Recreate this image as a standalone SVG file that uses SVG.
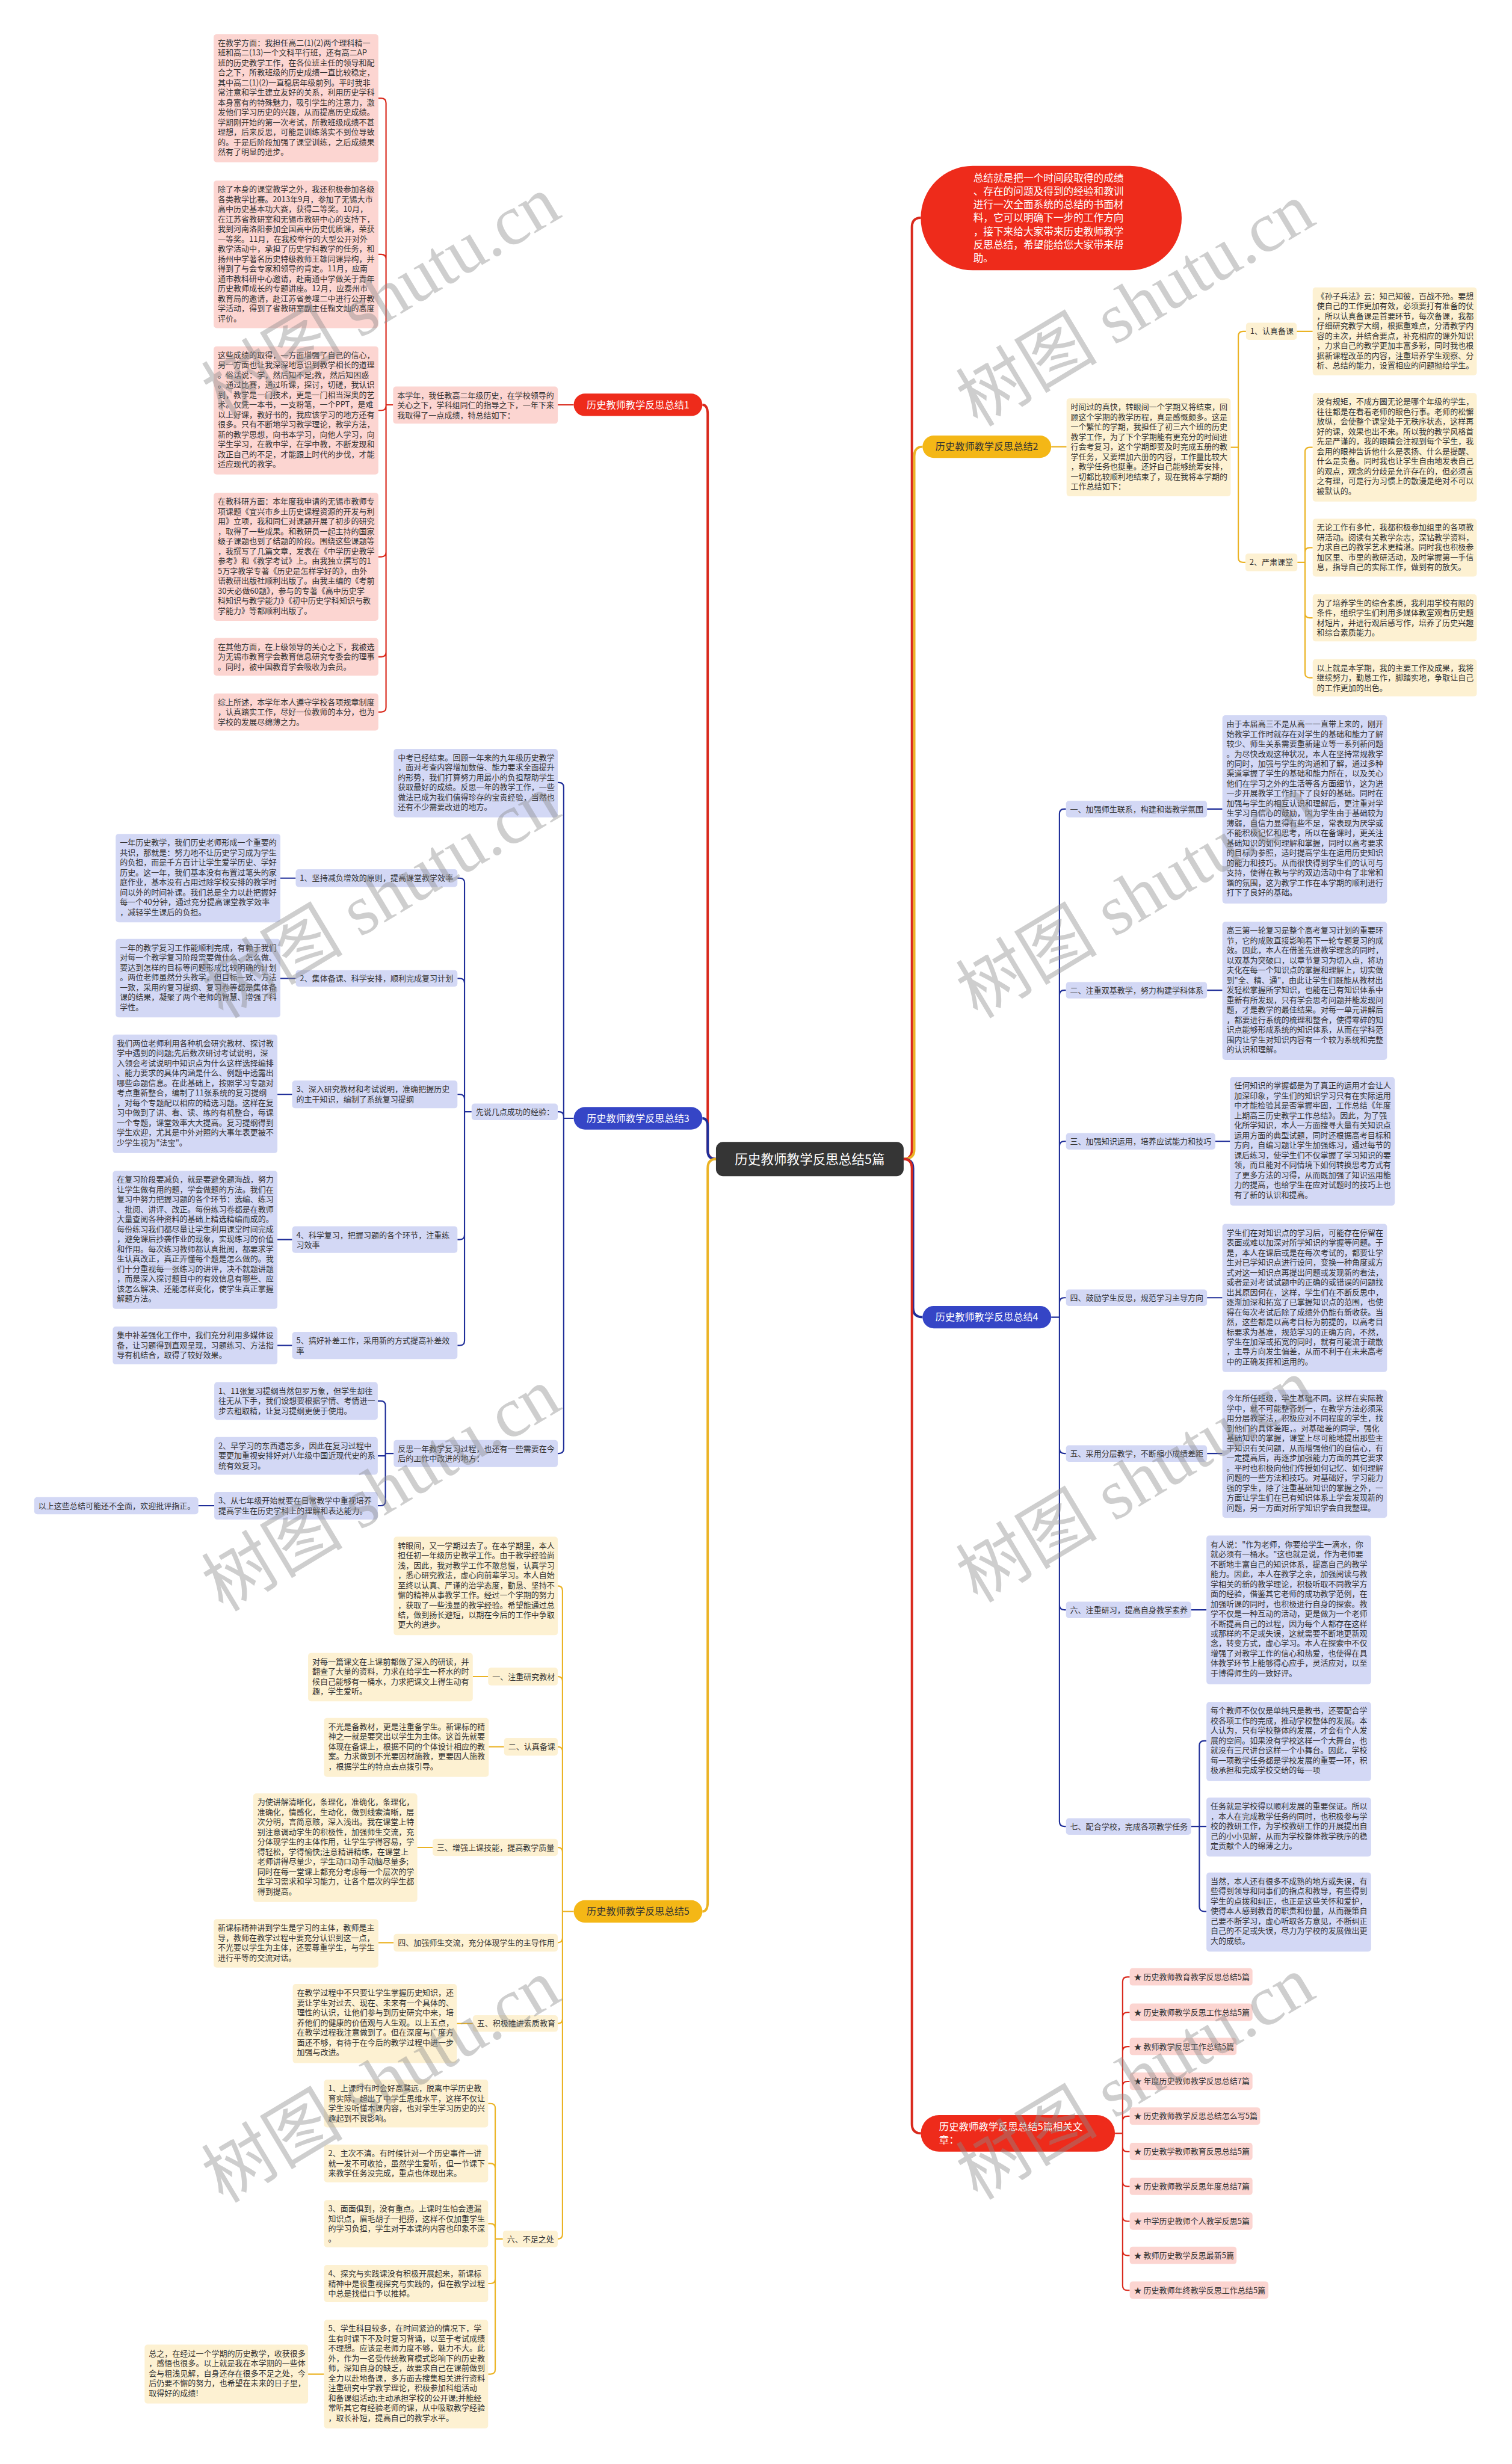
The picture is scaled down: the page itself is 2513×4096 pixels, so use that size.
<svg xmlns="http://www.w3.org/2000/svg" width="2513" height="4096" viewBox="0 0 2513 4096">
<style>
.t{font-family:"Noto Sans CJK SC","Noto Sans",sans-serif;font-size:13.3px;fill:#333}
.nt{font-family:"Noto Sans CJK SC","Noto Sans",sans-serif;font-size:16.5px;text-anchor:middle}
.w{fill:#fff}
.d{fill:#333}
.r{fill:#fcd5d1}
.y{fill:#fdf1d2}
.b{fill:#d3d8f5}
.nr{fill:#ee2b1b}
.ny{fill:#f4b716}
.nb{fill:#3545c6}
.lr{fill:none;stroke:#d9291c;stroke-width:2.2}
.ly{fill:none;stroke:#ebb324;stroke-width:2.2}
.lb{fill:none;stroke:#1f2e99;stroke-width:2.2}
.mn{stroke-width:4}
.wm{font-family:"Liberation Serif","Noto Sans CJK SC",serif;font-size:120px;fill:#8a8a8a;fill-opacity:.42;text-anchor:middle}
</style>
<rect width="2513" height="4096" fill="#fff"/>
<g transform="scale(0.981)">
<g id="connectors">
<path class="lr mn" d="M1213 1964Q1199 1964 1199 1948V702Q1199 686 1190 686"/>
<path class="lb mn" d="M1213 1964Q1199 1964 1199 1950V1909Q1199 1895 1190 1895"/>
<path class="ly mn" d="M1213 1964Q1199 1964 1199 1980V3223Q1199 3239 1190 3239"/>
<path class="lr mn" d="M1531 1964Q1545 1964 1545 1948V385Q1545 369 1560 369"/>
<path class="ly mn" d="M1531 1964Q1549 1964 1549 1948V773Q1549 757 1563 757"/>
<path class="lb mn" d="M1531 1964Q1547 1964 1547 1980V2216Q1547 2232 1563 2232"/>
<path class="lr mn" d="M1531 1964Q1545 1964 1545 1980V3599Q1545 3615 1560 3615"/>
<path class="lr" d="M972 686H945M666 686H654V174.5Q654 166.5 646 166.5H641M666 686H654V439Q654 431 646 431H641M666 686H654V687.5Q654 695.5 646 695.5H641M666 686H654V935.5Q654 943.5 646 943.5H641M666 686H654V1105Q654 1113 646 1113H641M666 686H654V1198.5Q654 1206.5 646 1206.5H641"/>
<path class="lr" d="M1889 3615H1902V3358Q1902 3350 1910 3350H1914M1889 3615H1902V3418Q1902 3410 1910 3410H1914M1889 3615H1902V3476Q1902 3468 1910 3468H1914M1889 3615H1902V3535Q1902 3527 1910 3527H1914M1889 3615H1902V3594Q1902 3586 1910 3586H1914M1889 3615H1902V3638Q1902 3646 1910 3646H1914M1889 3615H1902V3697Q1902 3705 1910 3705H1914M1889 3615H1902V3756Q1902 3764 1910 3764H1914M1889 3615H1902V3814Q1902 3822 1910 3822H1914M1889 3615H1902V3873Q1902 3881 1910 3881H1914"/>
<path class="lb" d="M972 1895H955V1334Q955 1326 947 1326H945M972 1895H955V1892Q955 1884 947 1884H945M972 1895H955V2455Q955 2463 947 2463H945M799 1884H787V1496Q787 1488 779 1488H775M799 1884H787V1666Q787 1658 779 1658H775M799 1884H787V1862.5Q787 1854.5 779 1854.5H775M799 1884H787V2092.5Q787 2100.5 779 2100.5H775M799 1884H787V2272Q787 2280 779 2280H775M501 1488H475M501 1658H475M495 1854.5H470M495 2100.5H470M495 2280H470M667 2463H653V2382Q653 2374 645 2374H640M667 2463H653V2465Q653 2467 651 2467H640M667 2463H653V2543.5Q653 2551.5 645 2551.5H640M363 2551.5H336"/>
<path class="ly" d="M972 3239H953V2695.5Q953 2687.5 945 2687.5M972 3239H953V2849Q953 2841 945 2841M972 3239H953V2968Q953 2960 945 2960M972 3239H953V3138.5Q953 3130.5 945 3130.5M972 3239H953V3284Q953 3292 945 3292M972 3239H953V3421Q953 3429 945 3429M972 3239H953V3786Q953 3794 945 3794M827 2841H801M854 2960H828M733 3130.5H707M667 3292H641M801 3429H774M852 3794H839V3572.5Q839 3564.5 831 3564.5H827M852 3794H839V3674Q839 3666 831 3666H827M852 3794H839V3776Q839 3768 831 3768H827M852 3794H839V3861.5Q839 3869.5 831 3869.5H827M852 3794H839V4015Q839 4023 831 4023H827M549 4023H522"/>
<path class="ly" d="M1781 757H1807M2085 758H2098V569.5Q2098 561.5 2106 561.5H2111M2085 758H2098V945Q2098 953 2106 953H2110M2197 561.5H2224M2198 953H2211V766Q2211 758 2219 758H2224M2198 953H2211V936Q2211 928 2219 928H2224M2198 953H2211V1039Q2211 1047 2219 1047H2224M2198 953H2211V1140.5Q2211 1148.5 2219 1148.5H2224"/>
<path class="lb" d="M1781 2232H1795V1379Q1795 1371 1803 1371H1806M1781 2232H1795V1686Q1795 1678 1803 1678H1806M1781 2232H1795V1942Q1795 1934 1803 1934H1806M1781 2232H1795V2207Q1795 2199 1803 2199H1806M1781 2232H1795V2455Q1795 2463 1803 2463H1806M1781 2232H1795V2720Q1795 2728 1803 2728H1806M1781 2232H1795V3087Q1795 3095 1803 3095H1806M2045 1371H2071M2045 1678H2071M2059 1934H2084M2045 2199H2071M2045 2463H2071M2018 2728H2044M2018 3095H2032V2958Q2032 2950 2040 2950H2044M2018 3095H2044M2018 3095H2032V3231Q2032 3239 2040 3239H2044"/>
</g>

<g id="center"><rect x="1213" y="1935" width="318" height="58" rx="12" fill="#353535"/><text class="nt w" x="1372" y="1972" style="font-size:22px">历史教师教学反思总结5篇</text></g>

<g id="intro"><rect class="nr" x="1560" y="281" width="442" height="177" rx="88"/><text class="t w" style="font-size:17px" x="1649" y="307.5"><tspan x="1649">总结就是把一个时间段取得的成绩</tspan><tspan x="1649" dy="22.7">、存在的问题及得到的经验和教训</tspan><tspan x="1649" dy="22.7">进行一次全面系统的总结的书面材</tspan><tspan x="1649" dy="22.7">料，它可以明确下一步的工作方向</tspan><tspan x="1649" dy="22.7">，接下来给大家带来历史教师教学</tspan><tspan x="1649" dy="22.7">反思总结，希望能给您大家带来帮</tspan><tspan x="1649" dy="22.7">助。</tspan></text></g>

<g id="node1"><rect class="nr" x="972" y="667" width="218" height="38" rx="19"/><text class="nt w" x="1081" y="692">历史教师教学反思总结1</text></g>
<g id="n1-intro"><rect class="r" x="666" y="655" width="279" height="63" rx="5"/><text class="t" y="674.5"><tspan x="673">本学年，我任教高二年级历史，在学校领导的</tspan><tspan x="673" dy="16.8">关心之下，学科组同仁的指导之下，一年下来</tspan><tspan x="673" dy="16.8">我取得了一点成绩，特总结如下：</tspan></text></g>
<g id="n1-a"><rect class="r" x="362" y="58" width="279" height="217" rx="5"/><text class="t" y="77.5"><tspan x="369">在教学方面：我担任高二(1)(2)两个理科精一</tspan><tspan x="369" dy="16.8">班和高二(13)一个文科平行班，还有高二AP</tspan><tspan x="369" dy="16.8">班的历史教学工作，在各位班主任的领导和配</tspan><tspan x="369" dy="16.8">合之下，所教班级的历史成绩一直比较稳定，</tspan><tspan x="369" dy="16.8">其中高二(1)(2)一直稳居年级前列。平时我非</tspan><tspan x="369" dy="16.8">常注意和学生建立友好的关系，利用历史学科</tspan><tspan x="369" dy="16.8">本身富有的特殊魅力，吸引学生的注意力，激</tspan><tspan x="369" dy="16.8">发他们学习历史的兴趣，从而提高历史成绩。</tspan><tspan x="369" dy="16.8">学期刚开始的第一次考试，所教班级成绩不甚</tspan><tspan x="369" dy="16.8">理想，后来反思，可能是训练落实不到位导致</tspan><tspan x="369" dy="16.8">的。于是后阶段加强了课堂训练，之后成绩果</tspan><tspan x="369" dy="16.8">然有了明显的进步。</tspan></text></g>
<g id="n1-b"><rect class="r" x="362" y="306" width="279" height="250" rx="5"/><text class="t" y="325.5"><tspan x="369">除了本身的课堂教学之外，我还积极参加各级</tspan><tspan x="369" dy="16.8">各类教学比赛。2013年9月，参加了无锡大市</tspan><tspan x="369" dy="16.8">高中历史基本功大赛，获得二等奖。10月，</tspan><tspan x="369" dy="16.8">在江苏省教研室和无锡市教研中心的支持下，</tspan><tspan x="369" dy="16.8">我到河南洛阳参加全国高中历史优质课，荣获</tspan><tspan x="369" dy="16.8">一等奖。11月，在我校举行的大型公开对外</tspan><tspan x="369" dy="16.8">教学活动中，承担了历史学科教学的任务，和</tspan><tspan x="369" dy="16.8">扬州中学著名历史特级教师王雄同课异构，并</tspan><tspan x="369" dy="16.8">得到了与会专家和领导的肯定。11月，应南</tspan><tspan x="369" dy="16.8">通市教科研中心邀请，赴南通中学做关于青年</tspan><tspan x="369" dy="16.8">历史教师成长的专题讲座。12月，应泰州市</tspan><tspan x="369" dy="16.8">教育局的邀请，赴江苏省姜堰二中进行公开教</tspan><tspan x="369" dy="16.8">学活动，得到了省教研室副主任鞠文灿的高度</tspan><tspan x="369" dy="16.8">评价。</tspan></text></g>
<g id="n1-c"><rect class="r" x="362" y="587" width="279" height="217" rx="5"/><text class="t" y="606.5"><tspan x="369">这些成绩的取得，一方面增强了自己的信心，</tspan><tspan x="369" dy="16.8">另一方面也让我深深地意识到教学相长的道理</tspan><tspan x="369" dy="16.8">。俗话说：学，然后知不足;教，然后知困惑</tspan><tspan x="369" dy="16.8">。通过比赛，通过听课，探讨，切磋，我认识</tspan><tspan x="369" dy="16.8">到，教学是一门技术，更是一门相当深奥的艺</tspan><tspan x="369" dy="16.8">术。仅凭一本书，一支粉笔，一个PPT，是难</tspan><tspan x="369" dy="16.8">以上好课，教好书的，我应该学习的地方还有</tspan><tspan x="369" dy="16.8">很多。只有不断地学习教学理论，教学方法，</tspan><tspan x="369" dy="16.8">新的教学思想，向书本学习，向他人学习，向</tspan><tspan x="369" dy="16.8">学生学习，在教中学，在学中教，不断发现和</tspan><tspan x="369" dy="16.8">改正自己的不足，才能跟上时代的步伐，才能</tspan><tspan x="369" dy="16.8">适应现代的教学。</tspan></text></g>
<g id="n1-d"><rect class="r" x="362" y="835" width="279" height="217" rx="5"/><text class="t" y="854.5"><tspan x="369">在教科研方面：本年度我申请的无锡市教师专</tspan><tspan x="369" dy="16.8">项课题《宜兴市乡土历史课程资源的开发与利</tspan><tspan x="369" dy="16.8">用》立项，我和同仁对课题开展了初步的研究</tspan><tspan x="369" dy="16.8">，取得了一些成果。和教研员一起主持的国家</tspan><tspan x="369" dy="16.8">级子课题也到了结题的阶段。围绕这些课题等</tspan><tspan x="369" dy="16.8">，我撰写了几篇文章，发表在《中学历史教学</tspan><tspan x="369" dy="16.8">参考》和《教学考试》上。由我独立撰写的1</tspan><tspan x="369" dy="16.8">5万字教学专著《历史是怎样学好的》，由外</tspan><tspan x="369" dy="16.8">语教研出版社顺利出版了。由我主编的《考前</tspan><tspan x="369" dy="16.8">30天必做60题》，参与的专著《高中历史学</tspan><tspan x="369" dy="16.8">科知识与教学能力》《初中历史学科知识与教</tspan><tspan x="369" dy="16.8">学能力》等都顺利出版了。</tspan></text></g>
<g id="n1-e"><rect class="r" x="362" y="1081" width="279" height="64" rx="5"/><text class="t" y="1100.5"><tspan x="369">在其他方面，在上级领导的关心之下，我被选</tspan><tspan x="369" dy="16.8">为无锡市教育学会教育信息研究专委会的理事</tspan><tspan x="369" dy="16.8">。同时，被中国教育学会吸收为会员。</tspan></text></g>
<g id="n1-f"><rect class="r" x="362" y="1175" width="279" height="63" rx="5"/><text class="t" y="1194.5"><tspan x="369">综上所述，本学年本人遵守学校各项规章制度</tspan><tspan x="369" dy="16.8">，认真踏实工作，尽好一位教师的本分，也为</tspan><tspan x="369" dy="16.8">学校的发展尽绵薄之力。</tspan></text></g>

<g id="node3"><rect class="nb" x="972" y="1876" width="218" height="38" rx="19"/><text class="nt w" x="1081" y="1901">历史教师教学反思总结3</text></g>
<g id="n3-intro"><rect class="b" x="667" y="1269" width="278" height="116" rx="5"/><text class="t" y="1288.5"><tspan x="674">中考已经结束。回顾一年来的九年级历史教学</tspan><tspan x="674" dy="16.8">，面对考查内容增加数倍、能力要求全面提升</tspan><tspan x="674" dy="16.8">的形势，我们打算努力用最小的负担帮助学生</tspan><tspan x="674" dy="16.8">获取最好的成绩。反思一年的教学工作，一些</tspan><tspan x="674" dy="16.8">做法已成为我们值得珍存的宝贵经验，当然也</tspan><tspan x="674" dy="16.8">还有不少需要改进的地方。</tspan></text></g>
<g id="n3-xs"><rect class="b" x="799" y="1870" width="146" height="28" rx="5"/><text class="t" x="806" y="1888.7">先说几点成功的经验：</text></g>
<g id="n3-l1"><rect class="b" x="501" y="1473" width="274" height="30" rx="5"/><text class="t" x="508" y="1492.7">1、坚持减负增效的原则，提高课堂教学效率</text></g>
<g id="n3-t1"><rect class="b" x="196" y="1413" width="279" height="150" rx="5"/><text class="t" y="1432.5"><tspan x="203">一年历史教学，我们历史老师形成一个重要的</tspan><tspan x="203" dy="16.8">共识，那就是：努力地不让历史学习成为学生</tspan><tspan x="203" dy="16.8">的负担，而是千方百计让学生爱学历史、学好</tspan><tspan x="203" dy="16.8">历史。这一年，我们基本没有布置过笔头的家</tspan><tspan x="203" dy="16.8">庭作业，基本没有占用过除学校安排的教学时</tspan><tspan x="203" dy="16.8">间以外的时间补课。我们总是全力以赴把握好</tspan><tspan x="203" dy="16.8">每一个40分钟，通过充分提高课堂教学效率</tspan><tspan x="203" dy="16.8">，减轻学生课后的负担。</tspan></text></g>
<g id="n3-l2"><rect class="b" x="501" y="1644" width="274" height="28" rx="5"/><text class="t" x="508" y="1662.7">2、集体备课、科学安排，顺利完成复习计划</text></g>
<g id="n3-t2"><rect class="b" x="196" y="1591" width="279" height="133" rx="5"/><text class="t" y="1610.5"><tspan x="203">一年的教学复习工作能顺利完成，有赖于我们</tspan><tspan x="203" dy="16.8">对每一个教学复习阶段需要做什么、怎么做、</tspan><tspan x="203" dy="16.8">要达到怎样的目标等问题形成比较明确的计划</tspan><tspan x="203" dy="16.8">。两位老师虽然分头教学，但目标一致、方法</tspan><tspan x="203" dy="16.8">一致，采用的复习提纲、复习卷等都是集体备</tspan><tspan x="203" dy="16.8">课的结果，凝聚了两个老师的智慧、增强了科</tspan><tspan x="203" dy="16.8">学性。</tspan></text></g>
<g id="n3-l3"><rect class="b" x="495" y="1831" width="280" height="47" rx="5"/><text class="t" y="1850.5"><tspan x="502">3、深入研究教材和考试说明，准确把握历史</tspan><tspan x="502" dy="16.8">的主干知识，编制了系统复习提纲</tspan></text></g>
<g id="n3-t3"><rect class="b" x="191" y="1753" width="279" height="201" rx="5"/><text class="t" y="1772.5"><tspan x="198">我们两位老师利用各种机会研究教材、探讨教</tspan><tspan x="198" dy="16.8">学中遇到的问题;先后数次研讨考试说明，深</tspan><tspan x="198" dy="16.8">入领会考试说明中知识点为什么这样选择编排</tspan><tspan x="198" dy="16.8">、能力要求的具体内涵是什么、例题中透露出</tspan><tspan x="198" dy="16.8">哪些命题信息。在此基础上，按照学习专题对</tspan><tspan x="198" dy="16.8">考点重新整合，编制了11张系统的复习提纲</tspan><tspan x="198" dy="16.8">，对每个专题配以相应的精选习题。这样在复</tspan><tspan x="198" dy="16.8">习中做到了讲、看、读、练的有机整合，每课</tspan><tspan x="198" dy="16.8">一个专题，课堂效率大大提高。复习提纲得到</tspan><tspan x="198" dy="16.8">学生欢迎，尤其是中外对照的大事年表更被不</tspan><tspan x="198" dy="16.8">少学生视为"法宝"。</tspan></text></g>
<g id="n3-l4"><rect class="b" x="495" y="2078" width="280" height="45" rx="5"/><text class="t" y="2097.5"><tspan x="502">4、科学复习，把握习题的各个环节，注重练</tspan><tspan x="502" dy="16.8">习效率</tspan></text></g>
<g id="n3-t4"><rect class="b" x="191" y="1984" width="279" height="234" rx="5"/><text class="t" y="2003.5"><tspan x="198">在复习阶段要减负，就是要避免题海战，努力</tspan><tspan x="198" dy="16.8">让学生做有用的题，学会做题的方法。我们在</tspan><tspan x="198" dy="16.8">复习中努力把握习题的各个环节：选编、练习</tspan><tspan x="198" dy="16.8">、批阅、讲评、改正。每份练习卷都是在教师</tspan><tspan x="198" dy="16.8">大量查阅各种资料的基础上精选精编而成的。</tspan><tspan x="198" dy="16.8">每份练习我们都尽量让学生利用课堂时间完成</tspan><tspan x="198" dy="16.8">，避免课后抄袭作业的现象，实现练习的价值</tspan><tspan x="198" dy="16.8">和作用。每次练习教师都认真批阅，都要求学</tspan><tspan x="198" dy="16.8">生认真改正，真正弄懂每个题是怎么做的。我</tspan><tspan x="198" dy="16.8">们十分重视每一张练习的讲评，决不就题讲题</tspan><tspan x="198" dy="16.8">，而是深入探讨题目中的有效信息有哪些、应</tspan><tspan x="198" dy="16.8">该怎么解决、还能怎样变化，使学生真正掌握</tspan><tspan x="198" dy="16.8">解题方法。</tspan></text></g>
<g id="n3-l5"><rect class="b" x="495" y="2257" width="280" height="46" rx="5"/><text class="t" y="2276.5"><tspan x="502">5、搞好补差工作，采用新的方式提高补差效</tspan><tspan x="502" dy="16.8">率</tspan></text></g>
<g id="n3-t5"><rect class="b" x="191" y="2248" width="279" height="64" rx="5"/><text class="t" y="2267.5"><tspan x="198">集中补差强化工作中，我们充分利用多媒体设</tspan><tspan x="198" dy="16.8">备，让习题得到直观呈现，习题练习、方法指</tspan><tspan x="198" dy="16.8">导有机结合，取得了较好效果。</tspan></text></g>
<g id="n3-fs"><rect class="b" x="667" y="2440" width="278" height="46" rx="5"/><text class="t" y="2459.5"><tspan x="674">反思一年教学复习过程，也还有一些需要在今</tspan><tspan x="674" dy="16.8">后的工作中改进的地方：</tspan></text></g>
<g id="n3-r1"><rect class="b" x="363" y="2342" width="277" height="64" rx="5"/><text class="t" y="2361.5"><tspan x="370">1、11张复习提纲当然包罗万象，但学生却往</tspan><tspan x="370" dy="16.8">往无从下手，我们设想要根据学情、考情进一</tspan><tspan x="370" dy="16.8">步去粗取精，让复习提纲更便于使用。</tspan></text></g>
<g id="n3-r2"><rect class="b" x="363" y="2435" width="277" height="64" rx="5"/><text class="t" y="2454.5"><tspan x="370">2、早学习的东西遗忘多，因此在复习过程中</tspan><tspan x="370" dy="16.8">要更加重视安排好对八年级中国近现代史的系</tspan><tspan x="370" dy="16.8">统有效复习。</tspan></text></g>
<g id="n3-r3"><rect class="b" x="363" y="2528" width="277" height="47" rx="5"/><text class="t" y="2547.5"><tspan x="370">3、从七年级开始就要在日常教学中重视培养</tspan><tspan x="370" dy="16.8">提高学生在历史学科上的理解和表达能力。</tspan></text></g>
<g id="n3-end"><rect class="b" x="58" y="2537" width="278" height="29" rx="5"/><text class="t" x="65" y="2556.2">以上这些总结可能还不全面，欢迎批评指正。</text></g>

<g id="node5"><rect class="ny" x="972" y="3220" width="218" height="38" rx="19"/><text class="nt d" x="1081" y="3245">历史教师教学反思总结5</text></g>
<g id="n5-intro"><rect class="y" x="667" y="2604" width="278" height="167" rx="5"/><text class="t" y="2623.5"><tspan x="674">转眼间，又一学期过去了。在本学期里，本人</tspan><tspan x="674" dy="16.8">担任初一年级历史教学工作。由于教学经验尚</tspan><tspan x="674" dy="16.8">浅，因此，我对教学工作不敢怠慢，认真学习</tspan><tspan x="674" dy="16.8">，悉心研究教法，虚心向前辈学习。本人自始</tspan><tspan x="674" dy="16.8">至终以认真、严谨的治学态度，勤恳、坚持不</tspan><tspan x="674" dy="16.8">懈的精神从事教学工作。经过一个学期的努力</tspan><tspan x="674" dy="16.8">，获取了一些浅显的教学经验。希望能通过总</tspan><tspan x="674" dy="16.8">结，做到扬长避短，以期在今后的工作中争取</tspan><tspan x="674" dy="16.8">更大的进步。</tspan></text></g>
<g id="n5-l1"><rect class="y" x="827" y="2826" width="118" height="30" rx="5"/><text class="t" x="834" y="2845.7">一、注重研究教材</text></g>
<g id="n5-t1"><rect class="y" x="522" y="2801" width="279" height="82" rx="5"/><text class="t" y="2820.5"><tspan x="529">对每一篇课文在上课前都做了深入的研读，并</tspan><tspan x="529" dy="16.8">翻查了大量的资料，力求在给学生一杯水的时</tspan><tspan x="529" dy="16.8">候自己能够有一桶水，力求把课文上得生动有</tspan><tspan x="529" dy="16.8">趣，学生爱听。</tspan></text></g>
<g id="n5-l2"><rect class="y" x="854" y="2945" width="91" height="30" rx="5"/><text class="t" x="861" y="2964.7">二、认真备课</text></g>
<g id="n5-t2"><rect class="y" x="549" y="2911" width="279" height="100" rx="5"/><text class="t" y="2930.5"><tspan x="556">不光是备教材，更是注重备学生。新课标的精</tspan><tspan x="556" dy="16.8">神之一就是要突出以学生为主体。这首先就要</tspan><tspan x="556" dy="16.8">体现在备课上，根据不同的个体设计相应的教</tspan><tspan x="556" dy="16.8">案。力求做到不光要因材施教，更要因人施教</tspan><tspan x="556" dy="16.8">，根据学生的特点去点拨引导。</tspan></text></g>
<g id="n5-l3"><rect class="y" x="733" y="3116" width="212" height="29" rx="5"/><text class="t" x="740" y="3135.2">三、增强上课技能，提高教学质量</text></g>
<g id="n5-t3"><rect class="y" x="429" y="3039" width="278" height="184" rx="5"/><text class="t" y="3058.5"><tspan x="436">为使讲解清晰化，条理化，准确化，条理化，</tspan><tspan x="436" dy="16.8">准确化，情感化，生动化，做到线索清晰，层</tspan><tspan x="436" dy="16.8">次分明，言简意赅，深入浅出。我在课堂上特</tspan><tspan x="436" dy="16.8">别注意调动学生的积极性，加强师生交流，充</tspan><tspan x="436" dy="16.8">分体现学生的主体作用，让学生学得容易，学</tspan><tspan x="436" dy="16.8">得轻松，学得愉快;注意精讲精练，在课堂上</tspan><tspan x="436" dy="16.8">老师讲得尽量少，学生动口动手动脑尽量多;</tspan><tspan x="436" dy="16.8">同时在每一堂课上都充分考虑每一个层次的学</tspan><tspan x="436" dy="16.8">生学习需求和学习能力，让各个层次的学生都</tspan><tspan x="436" dy="16.8">得到提高。</tspan></text></g>
<g id="n5-l4"><rect class="y" x="667" y="3277" width="278" height="30" rx="5"/><text class="t" x="674" y="3296.7">四、加强师生交流，充分体现学生的主导作用</text></g>
<g id="n5-t4"><rect class="y" x="362" y="3252" width="279" height="82" rx="5"/><text class="t" y="3271.5"><tspan x="369">新课标精神讲到学生是学习的主体，教师是主</tspan><tspan x="369" dy="16.8">导，教师在教学过程中要充分认识到这一点，</tspan><tspan x="369" dy="16.8">不光要以学生为主体，还要尊重学生，与学生</tspan><tspan x="369" dy="16.8">进行平等的交流对话。</tspan></text></g>
<g id="n5-l5"><rect class="y" x="801" y="3415" width="144" height="28" rx="5"/><text class="t" x="808" y="3433.7">五、积极推进素质教育</text></g>
<g id="n5-t5"><rect class="y" x="496" y="3362" width="278" height="134" rx="5"/><text class="t" y="3381.5"><tspan x="503">在教学过程中不只要让学生掌握历史知识，还</tspan><tspan x="503" dy="16.8">要让学生对过去、现在、未来有一个具体的、</tspan><tspan x="503" dy="16.8">理性的认识，让他们参与到历史研究中来，培</tspan><tspan x="503" dy="16.8">养他们的健康的价值观与人生观。以上五点，</tspan><tspan x="503" dy="16.8">在教学过程我注意做到了。但在深度与广度方</tspan><tspan x="503" dy="16.8">面还不够，有待于在今后的教学过程中进一步</tspan><tspan x="503" dy="16.8">加强与改进。</tspan></text></g>
<g id="n5-l6"><rect class="y" x="852" y="3780" width="93" height="28" rx="5"/><text class="t" x="859" y="3798.7">六、不足之处</text></g>
<g id="n5-n1"><rect class="y" x="549" y="3524" width="278" height="81" rx="5"/><text class="t" y="3543.5"><tspan x="556">1、上课时有时会好高骛远，脱离中学历史教</tspan><tspan x="556" dy="16.8">育实际，超出了中学生思维水平，这样不仅让</tspan><tspan x="556" dy="16.8">学生没听懂本课内容，也对学生学习历史的兴</tspan><tspan x="556" dy="16.8">趣起到不良影响。</tspan></text></g>
<g id="n5-n2"><rect class="y" x="549" y="3634" width="278" height="64" rx="5"/><text class="t" y="3653.5"><tspan x="556">2、主次不清。有时候针对一个历史事件一讲</tspan><tspan x="556" dy="16.8">就一发不可收拾，虽然学生爱听，但一节课下</tspan><tspan x="556" dy="16.8">来教学任务没完成，重点也体现出来。</tspan></text></g>
<g id="n5-n3"><rect class="y" x="549" y="3728" width="278" height="80" rx="5"/><text class="t" y="3747.5"><tspan x="556">3、面面俱到，没有重点。上课时生怕会遗漏</tspan><tspan x="556" dy="16.8">知识点，眉毛胡子一把捞，这样不仅加重学生</tspan><tspan x="556" dy="16.8">的学习负担，学生对于本课的内容也印象不深</tspan><tspan x="556" dy="16.8">。</tspan></text></g>
<g id="n5-n4"><rect class="y" x="549" y="3838" width="278" height="63" rx="5"/><text class="t" y="3857.5"><tspan x="556">4、探究与实践课没有积极开展起来，新课标</tspan><tspan x="556" dy="16.8">精神中是很重视探究与实践的，但在教学过程</tspan><tspan x="556" dy="16.8">中总是找借口予以推掉。</tspan></text></g>
<g id="n5-n5"><rect class="y" x="549" y="3931" width="278" height="184" rx="5"/><text class="t" y="3950.5"><tspan x="556">5、学生科目较多，在时间紧迫的情况下，学</tspan><tspan x="556" dy="16.8">生有时课下不及时复习背诵，以至于考试成绩</tspan><tspan x="556" dy="16.8">不理想。应该是老师力度不够，魅力不大。此</tspan><tspan x="556" dy="16.8">外，作为一名受传统教育模式影响下的历史教</tspan><tspan x="556" dy="16.8">师，深知自身的缺乏，故要求自己在课前做到</tspan><tspan x="556" dy="16.8">全力以赴地备课，多方面去搜集相关进行资料</tspan><tspan x="556" dy="16.8">注重研究中学教学理论，积极参加科组活动</tspan><tspan x="556" dy="16.8">和备课组活动;主动承担学校的公开课;并能经</tspan><tspan x="556" dy="16.8">常听其它有经验老师的课，从中吸取教学经验</tspan><tspan x="556" dy="16.8">，取长补短，提高自己的教学水平。</tspan></text></g>
<g id="n5-end"><rect class="y" x="245" y="3973" width="277" height="100" rx="5"/><text class="t" y="3992.5"><tspan x="252">总之，在经过一个学期的历史教学，收获很多</tspan><tspan x="252" dy="16.8">，感悟也很多。以上就是我在本学期的一些体</tspan><tspan x="252" dy="16.8">会与粗浅见解，自身还存在很多不足之处，今</tspan><tspan x="252" dy="16.8">后仍要不懈的努力，也希望在未来的日子里，</tspan><tspan x="252" dy="16.8">取得好的成绩!</tspan></text></g>

<g id="node2"><rect class="ny" x="1563" y="738" width="218" height="38" rx="19"/><text class="nt d" x="1672" y="763">历史教师教学反思总结2</text></g>
<g id="n2-intro"><rect class="y" x="1807" y="675" width="278" height="166" rx="5"/><text class="t" y="694.5"><tspan x="1814">时间过的真快，转眼间一个学期又将结束，回</tspan><tspan x="1814" dy="16.8">顾这个学期的教学历程，真是感慨颇多。这是</tspan><tspan x="1814" dy="16.8">一个繁忙的学期，我担任了初三六个班的历史</tspan><tspan x="1814" dy="16.8">教学工作，为了下个学期能有更充分的时间进</tspan><tspan x="1814" dy="16.8">行会考复习，这个学期即要及时完成五册的教</tspan><tspan x="1814" dy="16.8">学任务，又要增加六册的内容，工作量比较大</tspan><tspan x="1814" dy="16.8">，教学任务也挺重。还好自己能够统筹安排，</tspan><tspan x="1814" dy="16.8">一切都比较顺利地结束了，现在我将本学期的</tspan><tspan x="1814" dy="16.8">工作总结如下：</tspan></text></g>
<g id="n2-l1"><rect class="y" x="2111" y="547" width="86" height="29" rx="5"/><text class="t" x="2118" y="566.2">1、认真备课</text></g>
<g id="n2-t1"><rect class="y" x="2224" y="487" width="278" height="149" rx="5"/><text class="t" y="506.5"><tspan x="2231">《孙子兵法》云：知己知彼，百战不殆。要想</tspan><tspan x="2231" dy="16.8">使自己的工作更加有效，必须要打有准备的仗</tspan><tspan x="2231" dy="16.8">，所以认真备课是首要环节，每次备课，我都</tspan><tspan x="2231" dy="16.8">仔细研究教学大纲，根据重难点，分清教学内</tspan><tspan x="2231" dy="16.8">容的主次，并结合要点，补充相应的课外知识</tspan><tspan x="2231" dy="16.8">，力求自己的教学更加丰富多彩，同时我也根</tspan><tspan x="2231" dy="16.8">据新课程改革的内容，注重培养学生观察、分</tspan><tspan x="2231" dy="16.8">析、总结的能力，设置相应的问题抛给学生。</tspan></text></g>
<g id="n2-l2"><rect class="y" x="2110" y="938" width="88" height="30" rx="5"/><text class="t" x="2117" y="957.7">2、严肃课堂</text></g>
<g id="n2-s1"><rect class="y" x="2224" y="666" width="278" height="184" rx="5"/><text class="t" y="685.5"><tspan x="2231">没有规矩，不成方圆无论是哪个年级的学生，</tspan><tspan x="2231" dy="16.8">往往都是在看着老师的眼色行事。老师的松懈</tspan><tspan x="2231" dy="16.8">放纵，会使整个课堂处于无秩序状态，这样再</tspan><tspan x="2231" dy="16.8">好的课，效果也出不来。所以我的教学风格首</tspan><tspan x="2231" dy="16.8">先是严谨的，我的眼睛会注视到每个学生，我</tspan><tspan x="2231" dy="16.8">会用的眼神告诉他什么是表扬、什么是提醒、</tspan><tspan x="2231" dy="16.8">什么是责备。同时我也让学生自由地发表自己</tspan><tspan x="2231" dy="16.8">的观点，观念的分歧是允许存在的，但必须言</tspan><tspan x="2231" dy="16.8">之有理，可是行为习惯上的散漫是绝对不可以</tspan><tspan x="2231" dy="16.8">被默认的。</tspan></text></g>
<g id="n2-s2"><rect class="y" x="2224" y="879" width="278" height="98" rx="5"/><text class="t" y="898.5"><tspan x="2231">无论工作有多忙，我都积极参加组里的各项教</tspan><tspan x="2231" dy="16.8">研活动。阅读有关教学杂志，深钻教学资料，</tspan><tspan x="2231" dy="16.8">力求自己的教学艺术更精湛。同时我也积极参</tspan><tspan x="2231" dy="16.8">加区里、市里的教研活动，及时掌握第一手信</tspan><tspan x="2231" dy="16.8">息，指导自己的实际工作，做到有的放矢。</tspan></text></g>
<g id="n2-s3"><rect class="y" x="2224" y="1007" width="278" height="80" rx="5"/><text class="t" y="1026.5"><tspan x="2231">为了培养学生的综合素质，我利用学校有限的</tspan><tspan x="2231" dy="16.8">条件，组织学生们利用多媒体教室观看历史题</tspan><tspan x="2231" dy="16.8">材短片，并进行观后感写作，培养了历史兴趣</tspan><tspan x="2231" dy="16.8">和综合素质能力。</tspan></text></g>
<g id="n2-s4"><rect class="y" x="2224" y="1117" width="278" height="63" rx="5"/><text class="t" y="1136.5"><tspan x="2231">以上就是本学期，我的主要工作及成果，我将</tspan><tspan x="2231" dy="16.8">继续努力，勤恳工作，脚踏实地，争取让自己</tspan><tspan x="2231" dy="16.8">的工作更加的出色。</tspan></text></g>

<g id="node4"><rect class="nb" x="1563" y="2213" width="218" height="38" rx="19"/><text class="nt w" x="1672" y="2238">历史教师教学反思总结4</text></g>
<g id="n4-l1"><rect class="b" x="1806" y="1357" width="239" height="28" rx="5"/><text class="t" x="1813" y="1375.7">一、加强师生联系，构建和谐教学氛围</text></g>
<g id="n4-t1"><rect class="b" x="2071" y="1212" width="279" height="319" rx="5"/><text class="t" y="1231.5"><tspan x="2078">由于本届高三不是从高一一直带上来的，刚开</tspan><tspan x="2078" dy="16.8">始教学工作时就存在对学生的基础和能力了解</tspan><tspan x="2078" dy="16.8">较少、师生关系需要重新建立等一系列新问题</tspan><tspan x="2078" dy="16.8">。为尽快改观这种状况，本人在坚持常规教学</tspan><tspan x="2078" dy="16.8">的同时，加强与学生的沟通和了解，通过多种</tspan><tspan x="2078" dy="16.8">渠道掌握了学生的基础和能力所在，以及关心</tspan><tspan x="2078" dy="16.8">他们在学习之外的生活等各方面细节，这为进</tspan><tspan x="2078" dy="16.8">一步开展教学工作打下了良好的基础。同时在</tspan><tspan x="2078" dy="16.8">加强与学生的相互认识和理解后，更注重对学</tspan><tspan x="2078" dy="16.8">生学习自信心的鼓励，因为学生由于基础较为</tspan><tspan x="2078" dy="16.8">薄弱，自信力显得有些不足，常表现为厌学或</tspan><tspan x="2078" dy="16.8">不能积极记忆和思考，所以在备课时，更关注</tspan><tspan x="2078" dy="16.8">基础知识的如何理解和掌握，同时以高考要求</tspan><tspan x="2078" dy="16.8">的目标为参照，适时提高学生在运用历史知识</tspan><tspan x="2078" dy="16.8">的能力和技巧。从而很快得到学生们的认可与</tspan><tspan x="2078" dy="16.8">支持，使得在教与学的双边活动中有了非常和</tspan><tspan x="2078" dy="16.8">谐的氛围，这为教学工作在本学期的顺利进行</tspan><tspan x="2078" dy="16.8">打下了良好的基础。</tspan></text></g>
<g id="n4-l2"><rect class="b" x="1806" y="1664" width="239" height="28" rx="5"/><text class="t" x="1813" y="1682.7">二、注重双基教学，努力构建学科体系</text></g>
<g id="n4-t2"><rect class="b" x="2071" y="1562" width="279" height="234" rx="5"/><text class="t" y="1581.5"><tspan x="2078">高三第一轮复习是整个高考复习计划的重要环</tspan><tspan x="2078" dy="16.8">节，它的成败直接影响着下一轮专题复习的成</tspan><tspan x="2078" dy="16.8">效。因此，本人在借鉴先进教学理念的同时，</tspan><tspan x="2078" dy="16.8">以双基为突破口，以章节复习为切入点，将功</tspan><tspan x="2078" dy="16.8">夫化在每一个知识点的掌握和理解上，切实做</tspan><tspan x="2078" dy="16.8">到"全、精、通"，由此让学生们既能从教材出</tspan><tspan x="2078" dy="16.8">发轻松掌握所学知识，也能在已有知识体系中</tspan><tspan x="2078" dy="16.8">重新有所发现，只有学会思考问题并能发现问</tspan><tspan x="2078" dy="16.8">题，才是教学的最佳结果。对每一单元讲解后</tspan><tspan x="2078" dy="16.8">，都要进行系统的梳理和整合，使得零碎的知</tspan><tspan x="2078" dy="16.8">识点能够形成系统的知识体系，从而在学科范</tspan><tspan x="2078" dy="16.8">围内让学生对知识内容有一个较为系统和完整</tspan><tspan x="2078" dy="16.8">的认识和理解。</tspan></text></g>
<g id="n4-l3"><rect class="b" x="1806" y="1920" width="253" height="28" rx="5"/><text class="t" x="1813" y="1938.7">三、加强知识运用，培养应试能力和技巧</text></g>
<g id="n4-t3"><rect class="b" x="2084" y="1825" width="279" height="218" rx="5"/><text class="t" y="1844.5"><tspan x="2091">任何知识的掌握都是为了真正的运用才会让人</tspan><tspan x="2091" dy="16.8">加深印象，学生们的知识学习只有在实际运用</tspan><tspan x="2091" dy="16.8">中才能检验其是否掌握牢固，工作总结《年度</tspan><tspan x="2091" dy="16.8">上期高三历史教学工作总结》。因此，为了强</tspan><tspan x="2091" dy="16.8">化所学知识，本人一方面搜寻大量有关知识点</tspan><tspan x="2091" dy="16.8">运用方面的典型试题，同时还根据高考目标和</tspan><tspan x="2091" dy="16.8">方向，自编习题让学生加强练习，通过每节的</tspan><tspan x="2091" dy="16.8">课后练习，使学生们不仅掌握了学习知识的要</tspan><tspan x="2091" dy="16.8">领，而且能对不同情境下如何转换思考方式有</tspan><tspan x="2091" dy="16.8">了更多方法的习得，从而既加强了知识运用能</tspan><tspan x="2091" dy="16.8">力的提高，也给学生在应对试题时的技巧上也</tspan><tspan x="2091" dy="16.8">有了新的认识和提高。</tspan></text></g>
<g id="n4-l4"><rect class="b" x="1806" y="2185" width="239" height="28" rx="5"/><text class="t" x="1813" y="2203.7">四、鼓励学生反思，规范学习主导方向</text></g>
<g id="n4-t4"><rect class="b" x="2071" y="2074" width="279" height="251" rx="5"/><text class="t" y="2093.5"><tspan x="2078">学生们在对知识点的学习后，可能存在停留在</tspan><tspan x="2078" dy="16.8">表面或难以加深对所学知识的掌握等问题。于</tspan><tspan x="2078" dy="16.8">是，本人在课后或是在每次考试的，都要让学</tspan><tspan x="2078" dy="16.8">生对已学知识点进行设问，变换一种角度或方</tspan><tspan x="2078" dy="16.8">式对这一知识点再提出问题或发现新的看法，</tspan><tspan x="2078" dy="16.8">或者是对考试试题中的正确的或错误的问题找</tspan><tspan x="2078" dy="16.8">出其原因何在，这样，学生们在不断反思中，</tspan><tspan x="2078" dy="16.8">逐渐加深和拓宽了已掌握知识点的范围，也使</tspan><tspan x="2078" dy="16.8">得在每次考试后除了成绩外仍能有新收获。当</tspan><tspan x="2078" dy="16.8">然，这些都是以高考目标为前提的，以高考目</tspan><tspan x="2078" dy="16.8">标要求为基准，规范学习的正确方向，不然，</tspan><tspan x="2078" dy="16.8">学生在加深或拓宽的同时，就有可能流于疏散</tspan><tspan x="2078" dy="16.8">，主导方向发生偏差，从而不利于在未来高考</tspan><tspan x="2078" dy="16.8">中的正确发挥和运用的。</tspan></text></g>
<g id="n4-l5"><rect class="b" x="1806" y="2449" width="239" height="28" rx="5"/><text class="t" x="1813" y="2467.7">五、采用分层教学，不断缩小成绩差距</text></g>
<g id="n4-t5"><rect class="b" x="2071" y="2355" width="279" height="217" rx="5"/><text class="t" y="2374.5"><tspan x="2078">今年所任班级，学生基础不同。这样在实际教</tspan><tspan x="2078" dy="16.8">学中，就不可能整齐划一，在教学方法必须采</tspan><tspan x="2078" dy="16.8">用分层教学法，积极应对不同程度的学生，找</tspan><tspan x="2078" dy="16.8">到他们的具体差距，。对基础差的同学，强化</tspan><tspan x="2078" dy="16.8">基础知识的掌握，课堂上尽可能地提出那些主</tspan><tspan x="2078" dy="16.8">干知识有关问题，从而增强他们的自信心，有</tspan><tspan x="2078" dy="16.8">一定提高后，再逐步加强能力方面的其它要求</tspan><tspan x="2078" dy="16.8">。平时也积极向他们传授如何记忆、如何理解</tspan><tspan x="2078" dy="16.8">问题的一些方法和技巧。对基础好，学习能力</tspan><tspan x="2078" dy="16.8">强的学生，除了注重基础知识的掌握之外，一</tspan><tspan x="2078" dy="16.8">方面让学生们在已有知识体系上学会发现新的</tspan><tspan x="2078" dy="16.8">问题，另一方面对所学知识学会自我整理。</tspan></text></g>
<g id="n4-l6"><rect class="b" x="1806" y="2714" width="212" height="28" rx="5"/><text class="t" x="1813" y="2732.7">六、注重研习，提高自身教学素养</text></g>
<g id="n4-t6"><rect class="b" x="2044" y="2602" width="279" height="252" rx="5"/><text class="t" y="2621.5"><tspan x="2051">有人说："作为老师，你要给学生一滴水，你</tspan><tspan x="2051" dy="16.8">就必须有一桶水。"这也就是说，作为老师要</tspan><tspan x="2051" dy="16.8">不断地丰富自己的知识体系，提高自己的教学</tspan><tspan x="2051" dy="16.8">能力。因此，本人在教学之余，加强阅读与教</tspan><tspan x="2051" dy="16.8">学相关的新的教学理论，积极听取不同教学方</tspan><tspan x="2051" dy="16.8">面的经验，借鉴其它老师的成功教学范例，在</tspan><tspan x="2051" dy="16.8">加强听课的同时，也积极进行自身的探索。教</tspan><tspan x="2051" dy="16.8">学不仅是一种互动的活动，更是做为一个老师</tspan><tspan x="2051" dy="16.8">不断提高自己的过程，因为每个人都存在这样</tspan><tspan x="2051" dy="16.8">或那样的不足或失误，这就需要不断地更新观</tspan><tspan x="2051" dy="16.8">念，转变方式，虚心学习。本人在探索中不仅</tspan><tspan x="2051" dy="16.8">增强了对教学工作的信心和热爱，也使得在具</tspan><tspan x="2051" dy="16.8">体教学环节上能够得心应手，灵活应对，以至</tspan><tspan x="2051" dy="16.8">于博得师生的一致好评。</tspan></text></g>
<g id="n4-l7"><rect class="b" x="1806" y="3081" width="212" height="28" rx="5"/><text class="t" x="1813" y="3099.7">七、配合学校，完成各项教学任务</text></g>
<g id="n4-t7a"><rect class="b" x="2044" y="2884" width="279" height="134" rx="5"/><text class="t" y="2903.5"><tspan x="2051">每个教师不仅仅是单纯只是教书，还要配合学</tspan><tspan x="2051" dy="16.8">校各项工作的完成，推动学校整体的发展。本</tspan><tspan x="2051" dy="16.8">人认为，只有学校整体的发展，才会有个人发</tspan><tspan x="2051" dy="16.8">展的空间。如果没有学校这样一个大舞台，也</tspan><tspan x="2051" dy="16.8">就没有三尺讲台这样一个小舞台。因此，学校</tspan><tspan x="2051" dy="16.8">每一项教学任务都是学校发展的重要一环，积</tspan><tspan x="2051" dy="16.8">极承担和完成学校交给的每一项</tspan></text></g>
<g id="n4-t7b"><rect class="b" x="2044" y="3046" width="279" height="100" rx="5"/><text class="t" y="3065.5"><tspan x="2051">任务就是学校得以顺利发展的重要保证。所以</tspan><tspan x="2051" dy="16.8">，本人在完成教学任务的同时，也积极参与学</tspan><tspan x="2051" dy="16.8">校的教研工作，为学校教研工作的开展提出自</tspan><tspan x="2051" dy="16.8">己的小小见解，从而为学校整体教学秩序的稳</tspan><tspan x="2051" dy="16.8">定贡献个人的绵薄之力。</tspan></text></g>
<g id="n4-t7c"><rect class="b" x="2044" y="3173" width="279" height="134" rx="5"/><text class="t" y="3192.5"><tspan x="2051">当然，本人还有很多不成熟的地方或失误，有</tspan><tspan x="2051" dy="16.8">些得到领导和同事们的指点和教导，有些得到</tspan><tspan x="2051" dy="16.8">学生的点拨和纠正，也正是这些关怀和爱护，</tspan><tspan x="2051" dy="16.8">使得本人感到教育的职责和份量，从而鞭策自</tspan><tspan x="2051" dy="16.8">己要不断学习，虚心听取各方意见，不断纠正</tspan><tspan x="2051" dy="16.8">自己的不足或失误，尽力为学校的发展做出更</tspan><tspan x="2051" dy="16.8">大的成绩。</tspan></text></g>

<g id="related"><rect class="nr" x="1560" y="3584" width="329" height="62" rx="31"/><text class="t w" style="font-size:16.7px" y="3610"><tspan x="1591">历史教师教学反思总结5篇相关文</tspan><tspan x="1591" dy="22">章：</tspan></text></g>
<g id="rel1"><rect class="r" x="1914" y="3335" width="208" height="29.5" rx="5"/><text class="t" x="1921" y="3354.5">★ 历史教师教育教学反思总结5篇</text></g>
<g id="rel2"><rect class="r" x="1914" y="3395" width="208" height="29.5" rx="5"/><text class="t" x="1921" y="3414.5">★ 历史教师教学反思工作总结5篇</text></g>
<g id="rel3"><rect class="r" x="1914" y="3453" width="181" height="29.5" rx="5"/><text class="t" x="1921" y="3472.5">★ 教师教学反思工作总结5篇</text></g>
<g id="rel4"><rect class="r" x="1914" y="3512" width="208" height="29.5" rx="5"/><text class="t" x="1921" y="3531.5">★ 年度历史教师教学反思总结7篇</text></g>
<g id="rel5"><rect class="r" x="1914" y="3571" width="221" height="29.5" rx="5"/><text class="t" x="1921" y="3590.5">★ 历史教师教学反思总结怎么写5篇</text></g>
<g id="rel6"><rect class="r" x="1914" y="3631" width="208" height="29.5" rx="5"/><text class="t" x="1921" y="3650.5">★ 历史教学教师教育反思总结5篇</text></g>
<g id="rel7"><rect class="r" x="1914" y="3690" width="208" height="29.5" rx="5"/><text class="t" x="1921" y="3709.5">★ 历史教师教学反思年度总结7篇</text></g>
<g id="rel8"><rect class="r" x="1914" y="3749" width="208" height="29.5" rx="5"/><text class="t" x="1921" y="3768.5">★ 中学历史教师个人教学反思5篇</text></g>
<g id="rel9"><rect class="r" x="1914" y="3807" width="181" height="29.5" rx="5"/><text class="t" x="1921" y="3826.5">★ 教师历史教学反思最新5篇</text></g>
<g id="rel10"><rect class="r" x="1914" y="3866" width="235" height="29.5" rx="5"/><text class="t" x="1921" y="3885.5">★ 历史教师年终教学反思工作总结5篇</text></g>

<g id="watermarks">
<text class="wm" transform="translate(646 505) rotate(-31)" y="40">树图 shutu.cn</text>
<text class="wm" transform="translate(1924 517) rotate(-31)" y="40">树图 shutu.cn</text>
<text class="wm" transform="translate(646 1520) rotate(-31)" y="40">树图 shutu.cn</text>
<text class="wm" transform="translate(1924 1520) rotate(-31)" y="40">树图 shutu.cn</text>
<text class="wm" transform="translate(646 2525) rotate(-31)" y="40">树图 shutu.cn</text>
<text class="wm" transform="translate(1924 2510) rotate(-31)" y="40">树图 shutu.cn</text>
<text class="wm" transform="translate(646 3527) rotate(-31)" y="40">树图 shutu.cn</text>
<text class="wm" transform="translate(1924 3522) rotate(-31)" y="40">树图 shutu.cn</text>
</g>
</g>
</svg>
